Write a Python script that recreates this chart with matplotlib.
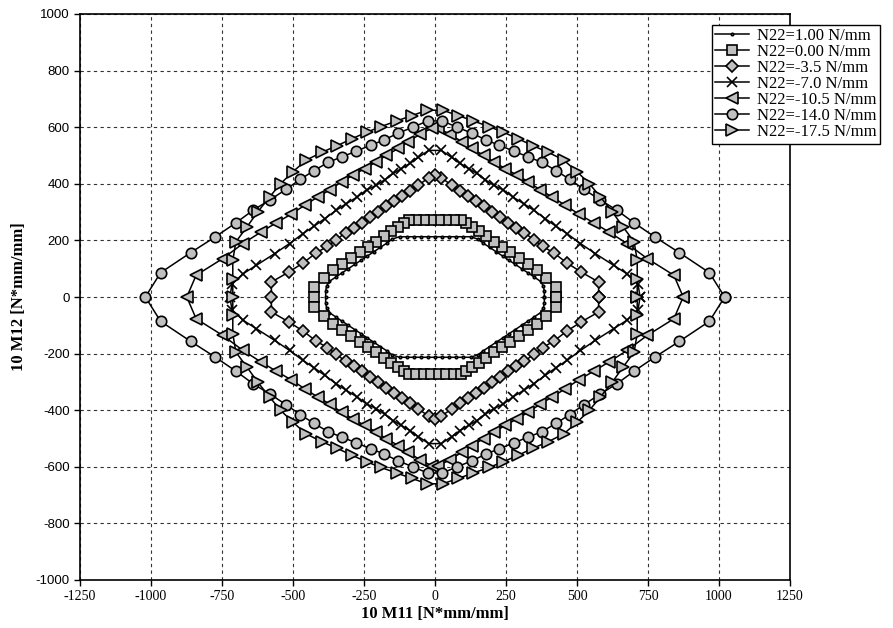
import matplotlib
matplotlib.use('Agg')
import matplotlib.pyplot as plt

plt.rcParams['axes.unicode_minus'] = False

# upper half of each interaction curve, from the right tip (M12=0) to the left tip;
# the lower half is the same path mirrored about M12=0
labels = ['N22=1.00 N/mm', 'N22=0.00 N/mm', 'N22=-3.5 N/mm', 'N22=-7.0 N/mm',
          'N22=-10.5 N/mm', 'N22=-14.0 N/mm', 'N22=-17.5 N/mm']

m11_a = [385, 385, 382, 372, 350, 328, 305, 283, 260, 238, 215, 193, 170, 150, 125,
         100, 75, 50, 25, 0, -25, -50, -75, -100, -125, -150, -170, -193, -215, -238,
         -260, -283, -305, -328, -350, -372, -382, -385, -385]
m12_a = [0, 20, 38, 55, 70, 85, 100, 115, 130, 145, 160, 175, 190, 205, 213,
         213, 213, 213, 213, 213, 213, 213, 213, 213, 213, 205, 190, 175, 160, 145,
         130, 115, 100, 85, 70, 55, 38, 20, 0]

m11_b = [425, 425, 392, 360, 326, 295, 265, 236, 208, 180, 155, 130, 110, 92, 66, 40,
         13, -13, -40, -66, -92, -110, -130, -155, -180, -208, -236, -265, -295, -326,
         -360, -392, -425, -425]
m12_b = [0, 35, 68, 94, 118, 138, 158, 177, 196, 214, 232, 248, 262, 271, 271, 271,
         271, 271, 271, 271, 271, 262, 248, 232, 214, 196, 177, 158, 138, 118,
         94, 68, 35, 0]

m11_c = [576, 576, 515, 465, 418, 379, 347, 315, 285, 256, 229, 202, 173, 144, 115, 88,
         59, 21, 0, -21, -59, -88, -115, -144, -173, -202, -229, -256, -285, -315, -347,
         -379, -418, -465, -515, -576, -576]
m12_c = [0, 53, 88, 120, 156, 179, 203, 227, 245, 262, 281, 301, 321, 340, 356, 375,
         395, 422, 430, 422, 395, 375, 356, 340, 321, 301, 281, 262, 245, 227, 203,
         179, 156, 120, 88, 53, 0]

m11_d = [722, 715, 676, 629, 565, 512, 465, 426, 388, 347, 312, 276, 241, 206, 176, 147,
         118, 88, 59, 22, -22, -59, -88, -118, -147, -176, -206, -241, -276, -312, -347,
         -388, -426, -465, -512, -565, -629, -676, -715, -722]
m12_d = [0, 45, 82, 112, 153, 189, 224, 250, 277, 307, 330, 352, 378, 395, 415, 437,
         454, 472, 493, 518, 518, 493, 472, 454, 437, 415, 395, 378, 352, 330, 307,
         277, 250, 224, 189, 153, 112, 82, 45, 0]

m11_e = [874, 841, 747, 676, 612, 559, 506, 459, 412, 371, 329, 288, 247, 206, 171, 129,
         94, 53, 12, -12, -53, -94, -129, -171, -206, -247, -288, -329, -371, -412, -459,
         -506, -559, -612, -676, -747, -841, -874]
m12_e = [0, 77, 136, 189, 230, 262, 293, 324, 354, 378, 407, 431, 454, 478, 501, 525,
         549, 575, 596, 596, 575, 549, 525, 501, 478, 454, 431, 407, 378, 354, 324,
         293, 262, 230, 189, 136, 77, 0]

m11_f = [1020, 966, 860, 776, 701, 640, 580, 525, 474, 427, 376, 326, 278, 227, 179, 132,
         78, 26, -26, -78, -132, -179, -227, -278, -326, -376, -427, -474, -525, -580,
         -640, -701, -776, -860, -966, -1020]
m12_f = [0, 86, 157, 211, 262, 307, 344, 380, 416, 446, 476, 496, 515, 536, 555, 578,
         600, 622, 622, 600, 578, 555, 536, 515, 496, 476, 446, 416, 380, 344,
         307, 262, 211, 157, 86, 0]

m11_g = [712, 712, 712, 701, 662, 624, 582, 543, 501, 453, 397, 344, 291, 241, 191, 135,
         82, 27, -27, -82, -135, -191, -241, -291, -344, -397, -453, -501, -543, -582,
         -624, -662, -701, -712, -712, -712]
m12_g = [0, 65, 130, 195, 248, 301, 354, 401, 442, 484, 512, 535, 560, 582, 602, 622,
         641, 660, 660, 641, 622, 602, 582, 560, 535, 512, 484, 442, 401, 354,
         301, 248, 195, 130, 65, 0]

curves = [(m11_a, m12_a), (m11_b, m12_b), (m11_c, m12_c), (m11_d, m12_d),
          (m11_e, m12_e), (m11_f, m12_f), (m11_g, m12_g)]

styles = [dict(marker='.', ms=3.5),
          dict(marker='s', ms=6.5),
          dict(marker='D', ms=6),
          dict(marker='x', ms=6.5),
          dict(marker='<', ms=8.5),
          dict(marker='o', ms=7.5),
          dict(marker='>', ms=8.5)]


def closed(xs, ys):
    # append the mirrored lower half so the loop closes at the right tip
    x = list(xs) + list(xs[::-1][1:])
    y = list(ys) + [-v for v in ys[::-1][1:]]
    return x, y


fig = plt.figure(figsize=(8.93, 6.28), dpi=100)
ax = fig.add_axes([80 / 893, 1 - 580 / 628, 710 / 893, 566 / 628])

for (xs, ys), st, lab in zip(curves, styles, labels):
    x, y = closed(xs, ys)
    ax.plot(x, y, color='black', lw=1.1, mfc='#c0c0c0', mec='black', mew=1.2,
            label=lab, **st)

ax.set_xlim(-1250, 1250)
ax.set_ylim(-1000, 1000)
ax.set_xticks(range(-1250, 1251, 250))
ax.set_yticks(range(-1000, 1001, 200))
ax.grid(True, color='#333333', linestyle=(0, (3, 3)), lw=0.8)
ax.tick_params(direction='out', length=4, width=1, color='black')
for lbl in ax.get_xticklabels():
    lbl.set_fontfamily('Liberation Serif')
    lbl.set_fontsize(10)
for lbl in ax.get_yticklabels():
    lbl.set_fontfamily('Liberation Sans')
    lbl.set_fontsize(9.5)
for sp in ax.spines.values():
    sp.set_linewidth(1.2)
    sp.set_color('black')

ax.set_xlabel('10 M11 [N*mm/mm]', fontfamily='Liberation Serif', fontweight='bold',
              fontsize=12, labelpad=2)
ax.set_ylabel('10 M12 [N*mm/mm]', fontfamily='Liberation Serif', fontweight='bold',
              fontsize=12, labelpad=6)

leg = ax.legend(loc='upper left', bbox_to_anchor=(712 / 893, 1 - 25 / 628),
                bbox_transform=fig.transFigure, prop={'family': 'Liberation Serif', 'size': 12},
                frameon=True, fancybox=False, framealpha=1, edgecolor='black',
                borderpad=0.2, labelspacing=0.0, handlelength=2.0, handletextpad=0.5,
                borderaxespad=0)
leg.get_frame().set_linewidth(1.0)

fig.savefig('out.png', dpi=100)
